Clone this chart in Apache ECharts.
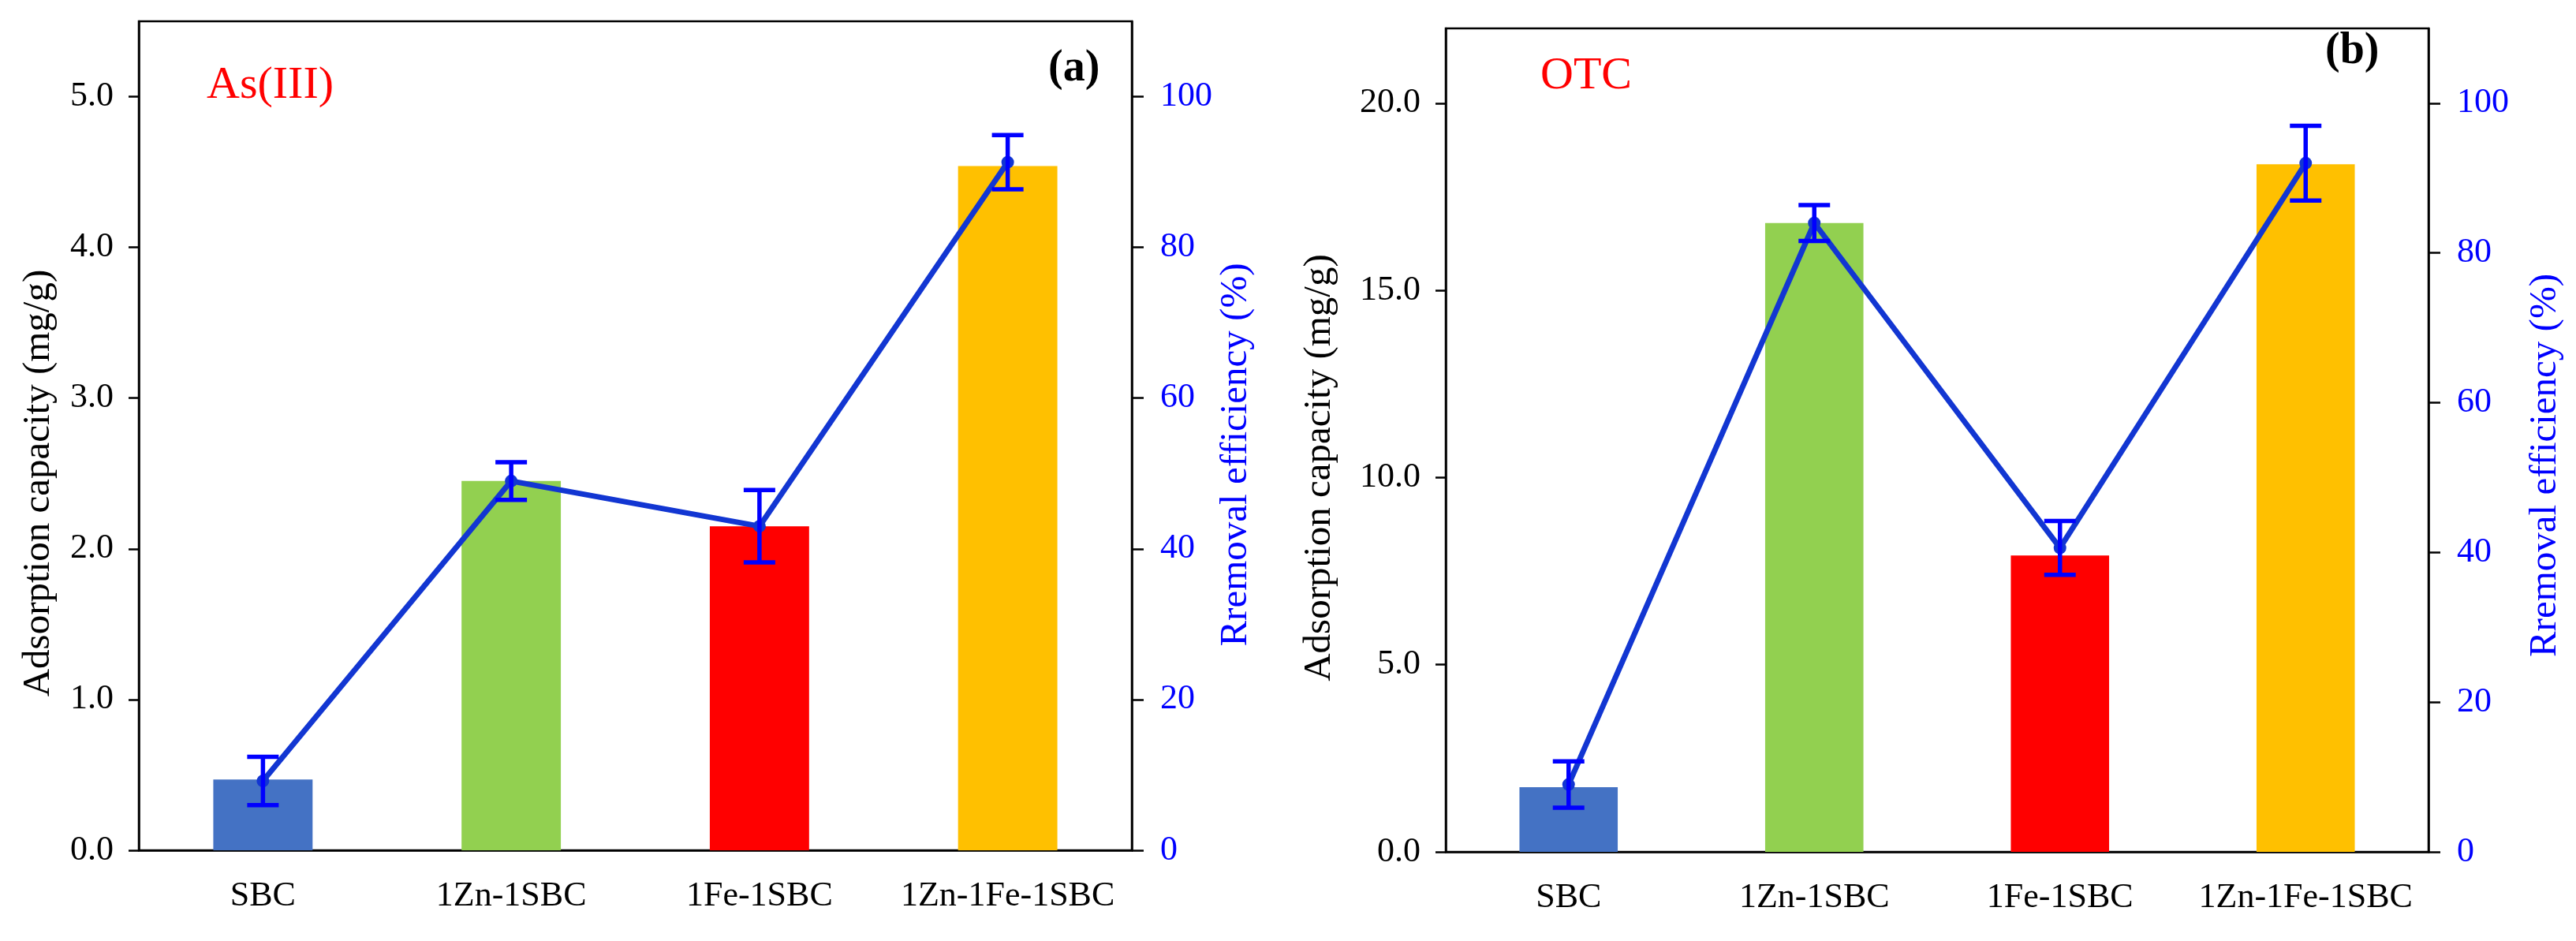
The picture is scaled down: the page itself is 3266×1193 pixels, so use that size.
<!DOCTYPE html>
<html>
<head>
<meta charset="utf-8">
<script src="https://cdn.jsdelivr.net/npm/echarts@6/dist/echarts.min.js"></script>
<style>
html,body{margin:0;padding:0;background:#fff;}
#c{width:3266px;height:1193px;}
</style>
</head>
<body>
<div id="c"></div>
<script>
const categories = ['SBC', '1Zn-1SBC', '1Fe-1SBC', '1Zn-1Fe-1SBC'];
const barColors = ['#4472C4', '#92D050', '#FF0000', '#FFC000'];

const capacityA = [0.47, 2.45, 2.15, 4.54];
const removalA = [9.2, 49.0, 43.0, 91.3];
const removalErrA = [3.2, 2.5, 4.8, 3.6];

const capacityB = [1.73, 16.8, 7.92, 18.37];
const removalB = [9.0, 84.0, 40.6, 92.0];
const removalErrB = [3.1, 2.4, 3.6, 5.0];

const capTicksA = [0, 1, 2, 3, 4, 5];
const capTicksB = [0, 5, 10, 15, 20];
const removalTicks = [0, 20, 40, 60, 80, 100];

const FONT = '"Liberation Serif", "Times New Roman", serif';
const BLUE = '#0000FF';
const LINE_BLUE = '#1236D2';

function errRender(params, api) {
  const x = api.value(0);
  const lo = api.value(1);
  const hi = api.value(2);
  const top = api.coord([x, hi]);
  const bot = api.coord([x, lo]);
  const hw = 20;
  const st = { stroke: BLUE, lineWidth: 5.5 };
  return {
    type: 'group',
    children: [
      { type: 'line', shape: { x1: top[0], y1: top[1], x2: bot[0], y2: bot[1] }, style: st },
      { type: 'line', shape: { x1: top[0] - hw, y1: top[1], x2: top[0] + hw, y2: top[1] }, style: st },
      { type: 'line', shape: { x1: bot[0] - hw, y1: bot[1], x2: bot[0] + hw, y2: bot[1] }, style: st }
    ]
  };
}

function xAxisFor(gi) {
  return {
    type: 'category', gridIndex: gi, data: categories,
    axisLine: { show: true, lineStyle: { color: '#000', width: 2.5 } },
    axisTick: { show: false },
    axisLabel: { color: '#000', fontFamily: FONT, fontSize: 44, margin: 36, interval: 0 },
    splitLine: { show: false }
  };
}

function leftY(gi, max, ticks, gap, pad) {
  return {
    type: 'value', gridIndex: gi, position: 'left', min: 0, max: max,
    name: 'Adsorption capacity (mg/g)', nameLocation: 'middle', nameGap: gap,
    nameTextStyle: { color: '#000', fontFamily: FONT, fontSize: 49, padding: [0, pad, 0, 0] },
    axisLine: { show: true, lineStyle: { color: '#000', width: 2.5 } },
    axisTick: { show: true, inside: false, length: 13, lineStyle: { color: '#000', width: 2.5 }, customValues: ticks },
    axisLabel: { color: '#000', fontFamily: FONT, fontSize: 44, margin: 32, customValues: ticks, formatter: v => Number(v).toFixed(1) },
    splitLine: { show: false }
  };
}

function rightY(gi, gap, pad) {
  return {
    type: 'value', gridIndex: gi, position: 'right', min: 0, max: 110,
    name: 'Rremoval efficiency (%)', nameLocation: 'middle', nameGap: gap,
    nameTextStyle: { color: BLUE, fontFamily: FONT, fontSize: 49, padding: [0, pad, 0, 0] },
    axisLine: { show: true, lineStyle: { color: '#000', width: 2.5 } },
    axisTick: { show: true, inside: false, length: 15, lineStyle: { color: '#000', width: 2.5 }, customValues: removalTicks },
    axisLabel: { color: BLUE, fontFamily: FONT, fontSize: 44, margin: 36, customValues: removalTicks },
    splitLine: { show: false }
  };
}

function seriesFor(gi, cap, rem, err) {
  return [
    {
      type: 'bar', xAxisIndex: gi, yAxisIndex: gi * 2, barWidth: '40%',
      data: cap.map((v, i) => ({ value: v, itemStyle: { color: barColors[i] } })),
      z: 2
    },
    {
      type: 'line', xAxisIndex: gi, yAxisIndex: gi * 2 + 1, data: rem,
      lineStyle: { color: LINE_BLUE, width: 7 },
      itemStyle: { color: LINE_BLUE },
      symbol: 'circle', symbolSize: 16, z: 3
    },
    {
      type: 'custom', xAxisIndex: gi, yAxisIndex: gi * 2 + 1,
      renderItem: errRender,
      encode: { x: 0, y: [1, 2] },
      data: rem.map((v, i) => [i, v - err[i], v + err[i]]),
      z: 4
    }
  ];
}

const chart = echarts.init(document.getElementById('c'), null, { renderer: 'canvas' });
chart.setOption({
  backgroundColor: '#fff',
  animation: false,
  grid: [
    { left: 176, top: 27, width: 1259, height: 1051, show: true, borderColor: '#000', borderWidth: 2.5, backgroundColor: 'transparent', containLabel: false, outerBoundsMode: 'none' },
    { left: 1833, top: 36, width: 1246, height: 1044, show: true, borderColor: '#000', borderWidth: 2.5, backgroundColor: 'transparent', containLabel: false, outerBoundsMode: 'none' }
  ],
  xAxis: [xAxisFor(0), xAxisFor(1)],
  yAxis: [
    leftY(0, 5.5, capTicksA, 102, 120),
    rightY(0, 108, 48),
    leftY(1, 22, capTicksB, 135, 70),
    rightY(1, 124, 64)
  ],
  series: [].concat(
    seriesFor(0, capacityA, removalA, removalErrA),
    seriesFor(1, capacityB, removalB, removalErrB)
  ),
  graphic: [
    { type: 'text', left: 262, top: 80, style: { text: 'As(III)', fill: '#FF0000', font: '58px ' + FONT } },
    { type: 'text', left: 1329, top: 60, style: { text: '(a)', fill: '#000', font: 'bold 56px ' + FONT } },
    { type: 'text', left: 1953, top: 68, style: { text: 'OTC', fill: '#FF0000', font: '58px ' + FONT } },
    { type: 'text', left: 2948, top: 38, style: { text: '(b)', fill: '#000', font: 'bold 56px ' + FONT } }
  ]
});
</script>
</body>
</html>
